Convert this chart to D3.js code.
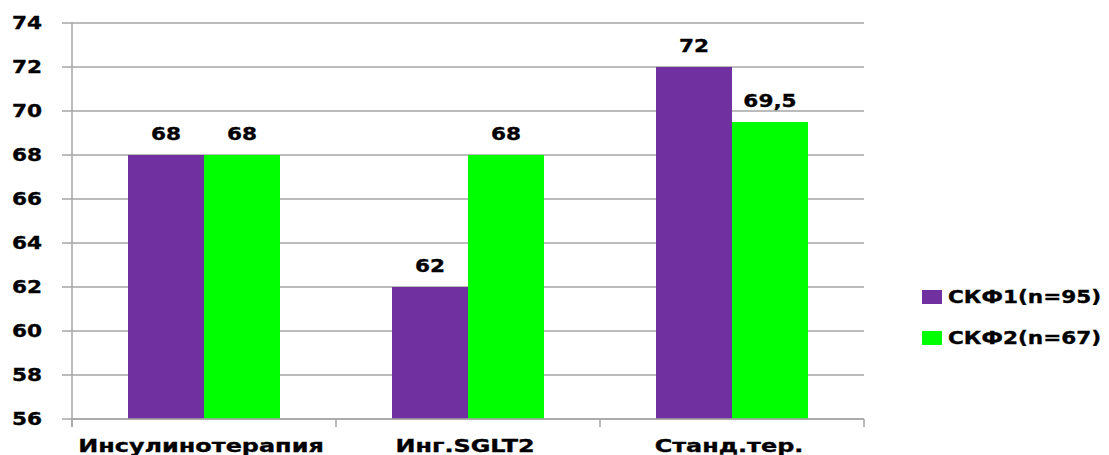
<!DOCTYPE html>
<html>
<head>
<meta charset="utf-8">
<script src="https://cdn.jsdelivr.net/npm/d3@7"></script>
<style>
  html, body { margin: 0; padding: 0; background: #fff; }
  svg text { font-family: "DejaVu Sans", Verdana, sans-serif; font-weight: bold; fill: #000; stroke: #000; stroke-width: 0.35px; }
</style>
</head>
<body>
<svg id="chart" width="1109" height="455"></svg>
<script>
// Treatment groups and GFR values per group
const categories = ["Инсулинотерапия", "Инг.SGLT2", "Станд.тер."];
const seriesNames = ["СКФ1(n=95)", "СКФ2(n=67)"];
const skf1 = [68, 62, 72];
const skf2 = [68, 68, 69.5];
const yTicks = [56, 58, 60, 62, 64, 66, 68, 70, 72, 74];
const colors = ["#7030A0", "#00FF00"];

const svg = d3.select("#chart");
const plotLeft = 72, plotRight = 864, plotTop = 23, plotBottom = 419;
const wide = 1.2;      // horizontal stretch of the wide bold lettering
const wideCat = 1.33;  // category labels are set a little wider still

const y = d3.scaleLinear().domain([56, 74]).range([plotBottom, plotTop]);
const x0 = d3.scaleBand().domain(categories).range([plotLeft, plotRight]).padding(0);
const gap = 56;
const x1 = d3.scaleBand().domain(seriesNames).range([gap, x0.bandwidth() - gap]).padding(0);

const fmt = v => String(v).replace(".", ",");
const place = (x, yy, s) => `translate(${x},${yy}) scale(${s},1)`;

// horizontal gridlines with outward ticks
svg.append("g").selectAll("line").data(yTicks).join("line")
  .attr("x1", plotLeft - 10).attr("x2", plotRight)
  .attr("y1", d => y(d)).attr("y2", d => y(d))
  .attr("stroke", "#a6a6a6").attr("stroke-width", 1.5);

// y tick labels
svg.append("g").selectAll("text").data(yTicks).join("text")
  .attr("transform", d => place(42, y(d), wide)).attr("dy", "0.36em")
  .attr("text-anchor", "end").attr("font-size", 18)
  .text(d => d);

// bars
const rows = categories.map((c, i) => [skf1[i], skf2[i]]);
const groups = svg.append("g").selectAll("g").data(categories).join("g")
  .attr("transform", d => `translate(${x0(d)},0)`);
groups.selectAll("rect").data((d, i) => rows[i].map((v, j) => ({ s: seriesNames[j], v, j })))
  .join("rect")
  .attr("x", d => x1(d.s)).attr("width", x1.bandwidth())
  .attr("y", d => y(d.v)).attr("height", d => y(56) - y(d.v))
  .attr("fill", d => colors[d.j]);

// value labels
groups.selectAll("text").data((d, i) => rows[i].map((v, j) => ({ s: seriesNames[j], v, j })))
  .join("text")
  .attr("transform", d => place(x1(d.s) + x1.bandwidth() / 2, y(d.v) - 15, wide))
  .attr("text-anchor", "middle").attr("font-size", 18)
  .text(d => fmt(d.v));

// axis lines
svg.append("line").attr("x1", plotLeft).attr("x2", plotLeft).attr("y1", plotTop).attr("y2", plotBottom + 8)
  .attr("stroke", "#a6a6a6").attr("stroke-width", 1.5);
svg.append("line").attr("x1", plotLeft).attr("x2", plotRight).attr("y1", plotBottom).attr("y2", plotBottom)
  .attr("stroke", "#a6a6a6").attr("stroke-width", 1.5);
const bounds = categories.map(c => x0(c)).concat([plotRight]);
svg.append("g").selectAll("line").data(bounds).join("line")
  .attr("x1", d => d).attr("x2", d => d).attr("y1", plotBottom).attr("y2", plotBottom + 8)
  .attr("stroke", "#a6a6a6").attr("stroke-width", 1.5);

// category labels
svg.append("g").selectAll("text").data(categories).join("text")
  .attr("transform", d => place(x0(d) + x0.bandwidth() / 2 - 3, 452, wideCat))
  .attr("text-anchor", "middle").attr("font-size", 18)
  .text(d => d);

// legend
const legend = svg.append("g").selectAll("g").data(seriesNames).join("g")
  .attr("transform", (d, i) => `translate(922,${297 + i * 41})`);
legend.append("rect").attr("x", 0).attr("y", -7).attr("width", 20).attr("height", 14)
  .attr("fill", (d, i) => colors[i]);
legend.append("text").attr("transform", place(26, 0, wide)).attr("dy", "0.36em")
  .attr("font-size", 18).text(d => d);
</script>
</body>
</html>
